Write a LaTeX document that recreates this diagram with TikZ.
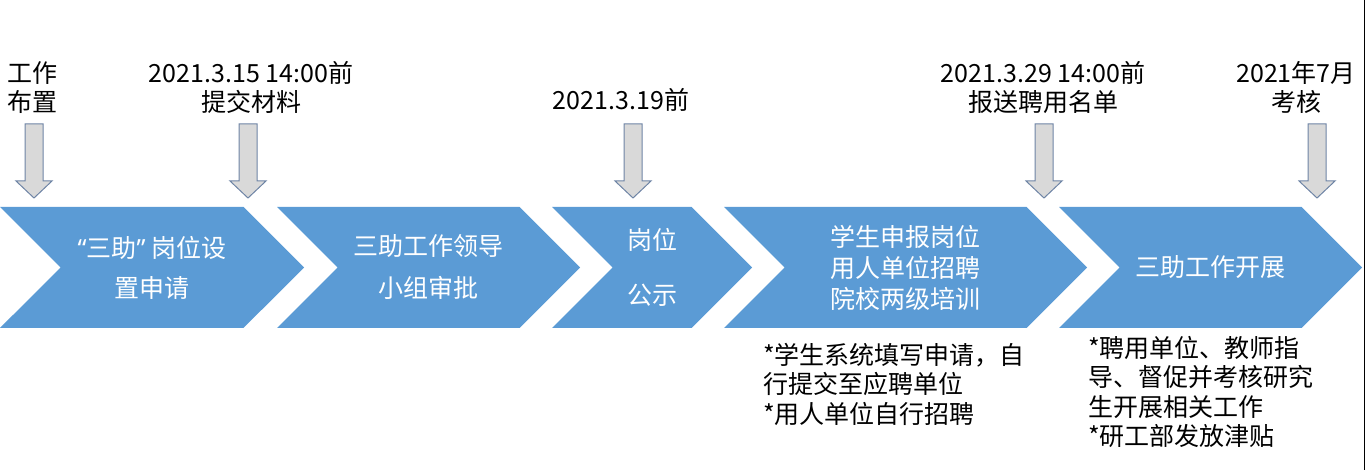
\documentclass[tikz,border=0pt]{standalone}
\usepackage{fontspec}
\setmainfont{Noto Sans CJK SC}
\newfontfamily\latinq{Noto Sans}
\usetikzlibrary{positioning, shapes.symbols}

\definecolor{stepblue}{RGB}{91,155,213}
\definecolor{dropfill}{RGB}{217,217,217}
\definecolor{dropline}{RGB}{110,132,165}

\begin{document}
\begin{tikzpicture}[x=1pt,y=-1pt,
   chev/.style={signal,signal from=west,signal to=east,signal pointer angle=90,
                fill=stepblue,text=white,minimum height=121pt,inner sep=0pt,outer sep=0pt,
                align=center,font=\fontsize{25}{31}\selectfont},
   datelbl/.style={align=center,inner sep=0pt,font=\fontsize{25}{29}\selectfont},
   note/.style={align=left,anchor=west,inner sep=0pt,font=\fontsize{25}{29.5}\selectfont},
   drop/.style={fill=dropfill,draw=dropline,line width=1pt}]

   \useasboundingbox (0,0) rectangle (1366,470);

   % Chevrons
      \node[chev,minimum width=304pt]  (apply)  at (152,267.5)   {{\latinq “}三助{\latinq ”} 岗位设\\[9pt]置申请};
      \node[chev,minimum width=303pt]  (review) at (428.5,267.5) {三助工作领导\\[11pt]小组审批};
      \node[chev,minimum width=200pt]  (show)   at (652,267.5)   {岗位\\[24pt]公示};
      \node[chev,minimum width=363pt]  (hire)   at (905.5,267.5) {学生申报岗位\\用人单位招聘\\院校两级培训};
      \node[chev,minimum width=303pt]  (work)   at (1210.5,267.5) {三助工作开展};

   % Dates
      \node[datelbl,align=left] (dstart) at (33,87.5)    {工作\\布置};
      \node[datelbl]            (dsub)   at (251,87.5)   {2021.3.15 14:00前\\提交材料};
      \node[datelbl]            (dshow)  at (621,100)    {2021.3.19前};
      \node[datelbl]            (dlist)  at (1043,87.5)  {2021.3.29 14:00前\\报送聘用名单};
      \node[datelbl]            (dcheck) at (1296,87.5)  {2021年7月\\考核};

   % Notes
      \node[note] (nhire) at (763,384) {*学生系统填写申请，自\\行提交至应聘单位\\*用人单位自行招聘};
      \node[note] (nwork) at (1088,392) {*聘用单位、教师指\\导、督促并考核研究\\生开展相关工作\\*研工部发放津贴};

   % Drops
      \foreach \x/\n in {34/start,248/sub,633/show,1044/list,1317/check}{
         \coordinate (tip\n) at (\x,198);
         \draw[drop] (\x-9,124) -- (\x+9,124) -- (\x+9,181) -- (\x+18,181) -- (tip\n)
                     -- (\x-18,181) -- (\x-9,181) -- cycle;
      }

   \draw[line width=1pt] (1364,0) -- (1364,470);
\end{tikzpicture}
\end{document}
